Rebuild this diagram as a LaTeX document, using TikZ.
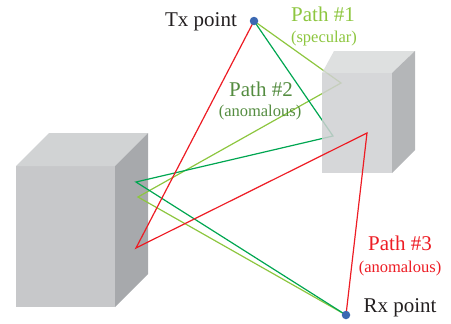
\documentclass[tikz,border=0pt]{standalone}
\usepackage{fontspec}
\setmainfont{Liberation Serif}
\definecolor{boxfront}{RGB}{199,200,202}
\definecolor{boxtop}{RGB}{209,211,212}
\definecolor{boxside}{RGB}{167,169,172}
\definecolor{lgreen}{RGB}{141,198,63}
\definecolor{dgreen}{RGB}{0,166,81}
\definecolor{pathred}{RGB}{237,28,36}
\definecolor{txtgreen}{RGB}{84,140,64}
\definecolor{txtblack}{RGB}{35,31,32}
\definecolor{dotblue}{RGB}{59,104,178}
\tikzset{
  ray/.style={line width=1.2pt,line join=miter},
  point/.style={circle,fill=dotblue,inner sep=0pt,minimum size=8.5pt},
  big/.style={font=\fontsize{21}{23}\selectfont,inner sep=0pt},
  small/.style={font=\fontsize{16.5}{18}\selectfont,inner sep=0pt}
}
\begin{document}
\begin{tikzpicture}[x=1pt,y=-1pt]
\useasboundingbox (0,0) rectangle (451,324);
% left building
\fill[boxfront] (16,166) rectangle (115,307);
\fill[boxtop] (16,166) -- (49,133) -- (148,133) -- (115,166) -- cycle;
\fill[boxside] (115,166) -- (148,133) -- (148,274) -- (115,307) -- cycle;

\coordinate (tx) at (254,21);
\coordinate (rx) at (346,315);
\coordinate (l1) at (138,197);
\coordinate (l2) at (136,182);
\coordinate (l3) at (136,248);
\coordinate (r1) at (341,83);
\coordinate (r2) at (333,136);
\coordinate (r3) at (367,133);

% path 1 and 2
\draw[ray,lgreen] (tx) to (r1) to (l1) to (rx);
\draw[ray,dgreen] (tx) to (r2) to (l2) to (rx);

% right building
\fill[boxfront!85!white,opacity=0.85] (322,73) rectangle (392,173);
\fill[boxtop!85!white,opacity=0.85] (322,73) -- (334,51) -- (415,51) -- (392,73) -- cycle;
\fill[boxside!85!white] (392,73) -- (415,51) -- (415,150) -- (392,173) -- cycle;

% path 3
\draw[ray,pathred] (tx) to (l3) to (r3) to (rx);

\node[point] (txdot) at (tx) {};
\node[point] (rxdot) at (rx) {};

\node[big,text=txtblack,anchor=base] (txlabel) at (201,27) {Tx point};
\node[big,text=txtblack,anchor=base] (rxlabel) at (400,312) {Rx point};
\node[big,text=lgreen,anchor=base] (p1) at (323,21) {Path \#1};
\node[small,text=lgreen,anchor=base] (p1s) at (324,42) {(specular)};
\node[big,text=txtgreen,anchor=base] (p2) at (261,96) {Path \#2};
\node[small,text=txtgreen,anchor=base] (p2s) at (260,116) {(anomalous)};
\node[big,text=pathred,anchor=base] (p3) at (400,251) {Path \#3};
\node[small,text=pathred,anchor=base] (p3s) at (400,272) {(anomalous)};
\end{tikzpicture}
\end{document}
